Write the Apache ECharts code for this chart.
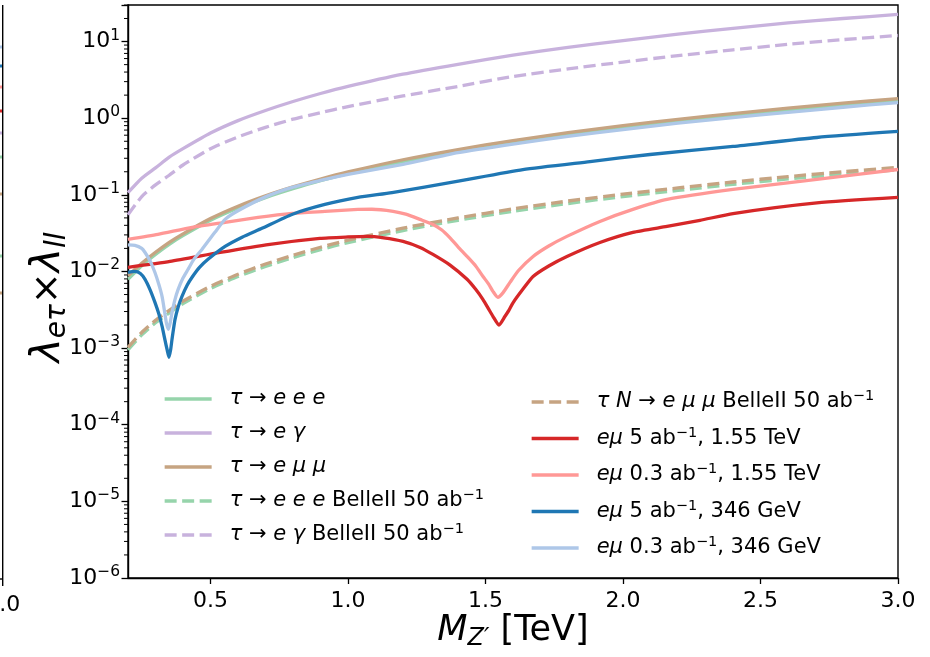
<!DOCTYPE html>
<html><head><meta charset="utf-8">
<script src="https://cdn.jsdelivr.net/npm/echarts@6/dist/echarts.min.js"></script>
<style>html,body{margin:0;padding:0;background:#fff}#c{width:930px;height:657px}</style>
</head><body><div id="c"></div>
<script>
// ---------- data ----------
const M_GRID = [0.2,0.25,0.3,0.35,0.4,0.5,0.6,0.7,0.8,0.9,1.0,1.2,1.4,1.6,1.8,2.0,2.2,2.4,2.6,2.8,3.0];
const tauEEE      = [0.0079,0.0119,0.0167,0.0226,0.0293,0.0465,0.0673,0.092,0.120,0.153,0.189,0.272,0.37,0.485,0.613,0.76,0.915,1.09,1.28,1.49,1.71];
const tauEGamma   = [0.107,0.165,0.225,0.31,0.40,0.64,0.93,1.26,1.65,2.1,2.6,3.75,5.05,6.65,8.4,10.3,12.5,14.9,17.5,20.0,22.6];
const tauEMuMu    = [0.0088,0.0128,0.0178,0.024,0.031,0.049,0.071,0.097,0.127,0.161,0.199,0.287,0.39,0.51,0.646,0.80,0.965,1.15,1.35,1.57,1.80];
const tauEEEBelle = [0.00095,0.00149,0.00214,0.00288,0.0038,0.0060,0.0086,0.0116,0.0152,0.0193,0.0238,0.0342,0.0465,0.061,0.077,0.095,0.114,0.137,0.161,0.186,0.213];
const tauEGBelle  = [0.055,0.095,0.135,0.18,0.245,0.40,0.57,0.76,0.97,1.18,1.42,1.95,2.6,3.5,4.4,5.4,6.55,7.8,9.2,10.6,12.0];
const tauNBelle   = [0.00102,0.0016,0.0023,0.0031,0.0041,0.0064,0.0092,0.0125,0.0163,0.0207,0.0256,0.0368,0.050,0.0655,0.083,0.102,0.123,0.147,0.173,0.20,0.229];

const M_RED   = [0.2,0.353,0.535,0.716,0.898,1.0,1.069,1.13,1.2,1.262,1.309,1.37,1.433,1.465,1.491,1.51,1.527,1.549,1.571,1.585,1.6,1.635,1.673,1.73,1.796,1.916,2.036,2.16,2.28,2.4,2.705,3.0];
const emu5_155 = [0.0113,0.0135,0.0177,0.0226,0.027,0.0282,0.0287,0.0275,0.0247,0.0206,0.0167,0.0122,0.0079,0.0058,0.0043,0.0033,0.0026,0.0020,0.0026,0.0031,0.0039,0.0058,0.0086,0.0118,0.0157,0.0239,0.0324,0.0387,0.0464,0.057,0.0785,0.0925];

const M_PINK  = [0.2,0.309,0.433,0.553,0.673,0.796,0.916,1.036,1.087,1.164,1.21,1.262,1.309,1.34,1.371,1.40,1.433,1.465,1.491,1.512,1.527,1.545,1.564,1.589,1.62,1.673,1.73,1.796,1.916,2.036,2.16,2.4,2.705,3.0];
const emu03_155 = [0.0262,0.0305,0.0376,0.0437,0.0507,0.0572,0.0608,0.0645,0.0648,0.061,0.056,0.0478,0.0411,0.035,0.0275,0.021,0.0157,0.0117,0.0086,0.0068,0.0055,0.0046,0.0053,0.0072,0.0103,0.0157,0.0215,0.0287,0.045,0.0645,0.087,0.1175,0.159,0.214];

const M_BLUE  = [0.2,0.225,0.245,0.262,0.28,0.298,0.312,0.324,0.335,0.342,0.349,0.355,0.36,0.371,0.383,0.396,0.415,0.433,0.46,0.491,0.553,0.615,0.687,0.796,0.916,1.036,1.16,1.396,1.636,1.88,2.098,2.4,2.705,3.0];
const emu5_346 = [0.0097,0.0100,0.0094,0.0079,0.0058,0.00395,0.0028,0.00192,0.00125,0.00096,0.00076,0.00095,0.0013,0.00237,0.0035,0.0047,0.0066,0.0084,0.0113,0.0144,0.0212,0.028,0.0365,0.0555,0.075,0.0925,0.107,0.150,0.214,0.272,0.336,0.428,0.56,0.671];

const M_LBLUE = [0.2,0.225,0.25,0.262,0.28,0.298,0.312,0.324,0.333,0.34,0.347,0.353,0.36,0.37,0.382,0.4,0.418,0.44,0.469,0.516,0.553,0.6,0.7,0.8,0.9,1.0,1.2,1.4,1.6,1.8,2.0,2.2,2.4,2.6,2.8,3.0];
const emu03_346 = [0.0222,0.0219,0.020,0.0177,0.0138,0.0097,0.0068,0.0047,0.0030,0.0021,0.00176,0.0021,0.0029,0.0042,0.0058,0.0082,0.0106,0.0145,0.0194,0.0324,0.0478,0.062,0.094,0.126,0.154,0.185,0.25,0.355,0.46,0.58,0.71,0.86,1.02,1.19,1.39,1.60];

const X_TICKS = [0.5,1.0,1.5,2.0,2.5,3.0];
const MINOR_MANT = [2,3,4,5,6,7,8,9];
const DECADES = [-6,-5,-4,-3,-2,-1,0,1];

const NAMES = ['τ → e e e','τ → e γ','τ → e μ μ','τ → e e e BelleII 50 ab⁻¹','τ → e γ BelleII 50 ab⁻¹',
  'τ N → e μ μ BelleII 50 ab⁻¹','eμ 5 ab⁻¹, 1.55 TeV','eμ 0.3 ab⁻¹, 1.55 TeV','eμ 5 ab⁻¹, 346 GeV','eμ 0.3 ab⁻¹, 346 GeV'];
const RICH_NAMES = [
  '{i|τ}{n| → }{i|e e e}',
  '{i|τ}{n| → }{i|e γ}',
  '{i|τ}{n| → }{i|e μ μ}',
  '{i|τ}{n| → }{i|e e e}{n| BelleII 50 ab}{sup|−1}',
  '{i|τ}{n| → }{i|e γ}{n| BelleII 50 ab}{sup|−1}',
  '{i|τ N}{n| → }{i|e μ μ}{n| BelleII 50 ab}{sup|−1}',
  '{i|eμ}{n| 5 ab}{sup|−1}{n|, 1.55 TeV}',
  '{i|eμ}{n| 0.3 ab}{sup|−1}{n|, 1.55 TeV}',
  '{i|eμ}{n| 5 ab}{sup|−1}{n|, 346 GeV}',
  '{i|eμ}{n| 0.3 ab}{sup|−1}{n|, 346 GeV}'
];
const COLORS = ['#96d4ab','#c8b2dd','#c6a482','#96d4ab','#c8b2dd','#c6a482','#d62728','#ff9896','#1f77b4','#aec7e8'];

// ---------- build ----------
const FONT = 'DejaVu Sans';
const LW = 3.3;
const zip = (xs, ys) => xs.map((x, i) => [x, ys[i]]);
const DASH = [12, 5.5];
const lineSeries = [
  [M_GRID, tauEEE, false], [M_GRID, tauEGamma, false], [M_GRID, tauEMuMu, false],
  [M_GRID, tauEEEBelle, true], [M_GRID, tauEGBelle, true], [M_GRID, tauNBelle, true],
  [M_RED, emu5_155, false], [M_PINK, emu03_155, false], [M_BLUE, emu5_346, false], [M_LBLUE, emu03_346, false]
].map((s, i) => ({
  name: NAMES[i], type: 'line', data: zip(s[0], s[1]), showSymbol: false, symbol: 'none',
  smooth: 0.2, z: 2 + i,
  lineStyle: { color: COLORS[i], width: LW, type: s[2] ? DASH : 'solid', cap: 'butt', join: 'round' },
  itemStyle: { color: COLORS[i] }, emphasis: { disabled: true }
}));

const minorVals = [];
DECADES.forEach(k => MINOR_MANT.forEach(m => { const v = m * Math.pow(10, k); if (v <= 30) minorVals.push([0.2, v]); }));

const minorSeries = {
  type: 'custom', silent: true, clip: false, z: 20, data: minorVals, encode: { x: 0, y: 1 },
  renderItem: (params, api) => {
    const p = api.coord([api.value(0), api.value(1)]);
    return { type: 'line', shape: { x1: p[0] - 4, y1: p[1], x2: p[0], y2: p[1] }, style: { stroke: '#000', lineWidth: 1 } };
  }
};

const LF = 21;
const legendRich = {
  n: { fontFamily: FONT, fontSize: LF, lineHeight: 26, color: '#000' },
  i: { fontFamily: FONT, fontSize: LF, lineHeight: 26, color: '#000', fontStyle: 'italic' },
  sup: { fontFamily: FONT, fontSize: 14.5, lineHeight: 15, color: '#000', verticalAlign: 'top' }
};
const legendFmt = name => RICH_NAMES[NAMES.indexOf(name)];
const mkLegend = (data, left, top, gap) => ({
  data, orient: 'vertical', left, top, itemWidth: 47, itemHeight: 14, itemGap: gap,
  selectedMode: false, formatter: legendFmt, itemStyle: { opacity: 0 }, lineStyle: { width: LW },
  textStyle: { fontFamily: FONT, fontSize: LF, color: '#000', lineHeight: 26, padding: [0, 0, 0, 13], rich: legendRich }
});

const neighbour = [
  { type: 'line', shape: { x1: 2.7, y1: 5, x2: 2.7, y2: 586 }, style: { stroke: '#000', lineWidth: 1.4 } },
  { type: 'line', shape: { x1: 0, y1: 579, x2: 2.7, y2: 579 }, style: { stroke: '#000', lineWidth: 1.4 } },
  { type: 'text', x: 2.7, y: 605, style: { text: '3.0', font: '22px "DejaVu Sans"', fill: '#000', align: 'center', verticalAlign: 'middle' } }
].concat([[47,'#aec7e8'],[66,'#1f77b4'],[87,'#ff9896'],[111,'#d62728'],[133,'#c8b2dd'],[157,'#96d4ab'],[194,'#c6a482'],[256,'#96d4ab'],[293,'#c6a482']]
  .map(d => ({ type: 'rect', shape: { x: 0, y: d[0] - 1.5, width: 2, height: 3 }, style: { fill: d[1] } })));

const TF = 22;
const chart = echarts.init(document.getElementById('c'), null, { renderer: 'canvas' });
chart.setOption({
  animation: false, backgroundColor: '#fff',
  grid: { left: 128, right: 32, top: 5, bottom: 79, show: true, borderColor: '#000', borderWidth: 1.4, backgroundColor: 'transparent' },
  xAxis: {
    type: 'value', min: 0.2, max: 3.0,
    name: '{mi|M}{sub|Z′}{n| [TeV]}', nameLocation: 'middle', nameGap: 33, nameMoveOverlap: false,
    nameTextStyle: { rich: {
      mi: { fontFamily: FONT, fontSize: 35, lineHeight: 40, fontStyle: 'italic', color: '#000' },
      sub: { fontFamily: FONT, fontSize: 24, lineHeight: 24, fontStyle: 'italic', color: '#000', verticalAlign: 'bottom' },
      n: { fontFamily: FONT, fontSize: 35, lineHeight: 40, color: '#000' } } },
    axisLine: { lineStyle: { color: '#000', width: 1.4 } },
    axisTick: { customValues: X_TICKS, length: 6, lineStyle: { color: '#000', width: 1.3 } },
    axisLabel: { customValues: X_TICKS, margin: 12, fontFamily: FONT, fontSize: TF, color: '#000', formatter: v => v.toFixed(1) },
    splitLine: { show: false }
  },
  yAxis: {
    type: 'log', logBase: 10, min: 1e-6, max: 30,
    name: '{l|λ}{s|eτ}{n|×}{l|λ}{s|ll}', nameLocation: 'middle', nameGap: 56, nameRotate: 90, nameMoveOverlap: false,
    nameTextStyle: { padding: [0, 12, 0, 0], rich: {
      l: { fontFamily: FONT, fontSize: 41, lineHeight: 48, fontStyle: 'italic', color: '#000' },
      s: { fontFamily: FONT, fontSize: 28, lineHeight: 28, fontStyle: 'italic', color: '#000', verticalAlign: 'bottom' },
      n: { fontFamily: FONT, fontSize: 38, lineHeight: 48, color: '#000' } } },
    axisLine: { show: true, lineStyle: { color: '#000', width: 1.4 } },
    axisTick: { show: true, length: 6.5, lineStyle: { color: '#000', width: 1.3 } },
    axisLabel: {
      margin: 8, fontFamily: FONT, fontSize: TF, color: '#000',
      formatter: v => {
        const l = Math.log10(v), k = Math.round(l);
        if (Math.abs(l - k) > 0.01) return '';
        return '{b|10}{s|' + (k < 0 ? '−' + (-k) : String(k)) + '}';
      },
      rich: {
        b: { fontFamily: FONT, fontSize: TF, lineHeight: 28, color: '#000' },
        s: { fontFamily: FONT, fontSize: 15.5, lineHeight: 15, color: '#000', verticalAlign: 'top' }
      }
    },
    splitLine: { show: false }
  },
  legend: [mkLegend(NAMES.slice(0, 5), 158, 381, 8), mkLegend(NAMES.slice(5), 525, 384, 10.5)],
  graphic: neighbour,
  series: lineSeries.concat([minorSeries])
});
</script></body></html>
